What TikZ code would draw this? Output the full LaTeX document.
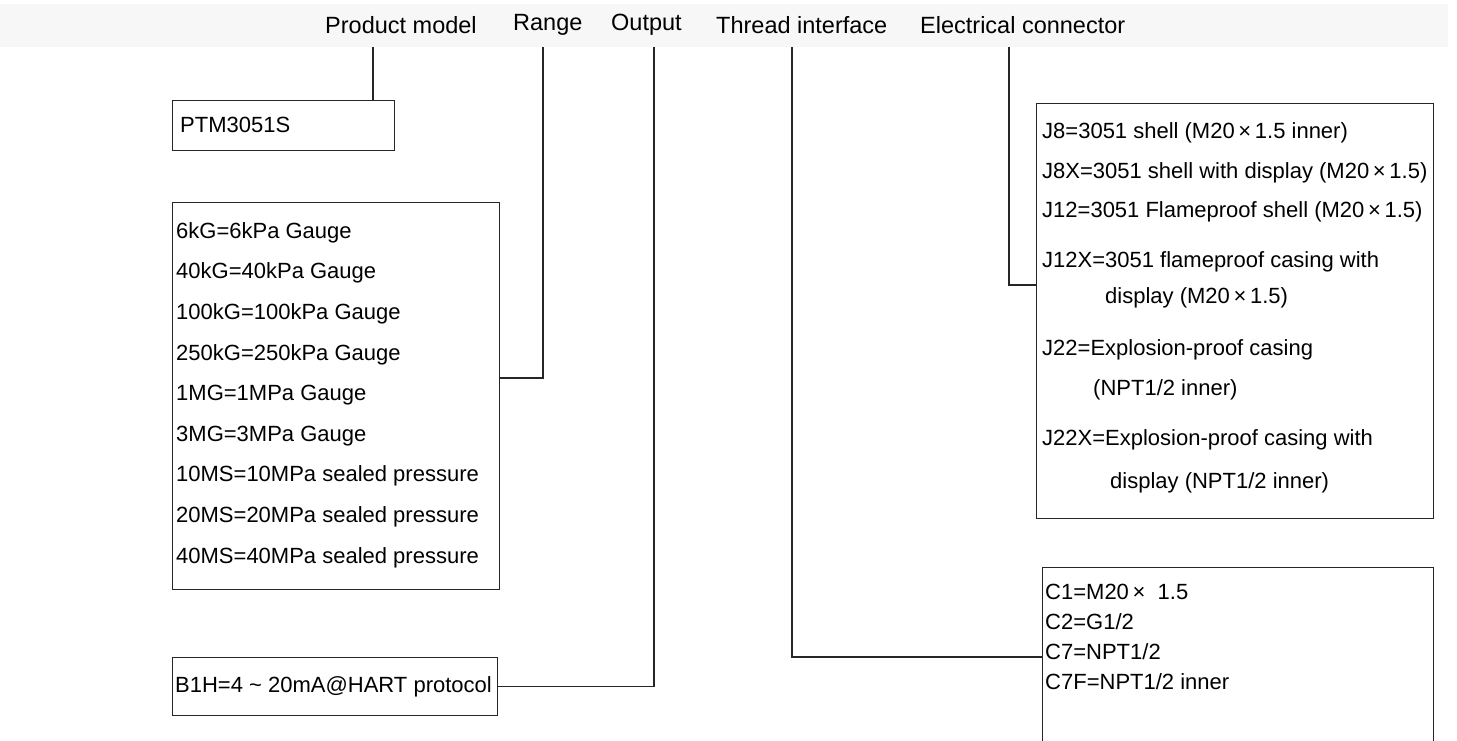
\documentclass[tikz,border=0pt]{standalone}
\usepackage{fontspec}
\setmainfont{Liberation Sans}
\usetikzlibrary{positioning}

\tikzset{
  box/.style = {draw = black!85, line width = 1.4pt, anchor = north west,
    inner sep = 0pt},
  item/.style = {anchor = west, inner sep = 0pt, text height = 1.5ex,
    text depth = .25ex, yshift = -2pt, font = \fontsize{22}{25}\selectfont},
  head/.style = {anchor = west, inner sep = 0pt,
    font = \fontsize{23.5}{26}\selectfont},
  conn/.style = {draw = black!85, line width = 1.3pt},
}

\begin{document}
\begin{tikzpicture}[x = 1pt, y = -1pt]
  \useasboundingbox (0, 0) rectangle (1457, 740);
  \clip (0, 0) rectangle (1457, 740);
  % header band with the field names
  \fill[gray!6] (0, 4) rectangle (1448, 47);
  \node[head] (model) at (325, 25) {Product model};
  \node[head] (range head) at (513, 25) {Range};
  \node[head] (output head) at (611, 25) {Output};
  \node[head] (thread head) at (716, 25) {Thread interface};
  \node[head] (elec head) at (920, 25) {Electrical connector};
  \coordinate (pm top) at (373, 47);
  \coordinate (rg top) at (543, 47);
  \coordinate (op top) at (654, 47);
  \coordinate (th top) at (792, 47);
  \coordinate (ec top) at (1009, 47);
  % product model
  \node[box, minimum width = 222pt, minimum height = 50pt] (ptm) at (172, 100)
  {};
  \node[item] (ptm text) at (180, 127) {PTM3051S};
  \draw[conn] (pm top) -- (pm top |- ptm.north);
  % range list
  \node[box, minimum width = 327pt, minimum height = 387pt] (range) at (172, 202)
  {};
  \foreach \i/\t in {0/6kG=6kPa Gauge, 1/40kG=40kPa Gauge,
    2/100kG=100kPa Gauge, 3/250kG=250kPa Gauge, 4/1MG=1MPa Gauge,
    5/3MG=3MPa Gauge, 6/10MS=10MPa sealed pressure,
    7/20MS=20MPa sealed pressure, 8/40MS=40MPa sealed pressure}
    \node[item] (r\i) at (176, 233 + 40.6 * \i) {\t};
  \coordinate (rg join) at (range.east |- 0, 378);
  \draw[conn] (rg top) |- (rg join);
  % output
  \node[box, minimum width = 325pt, minimum height = 58pt] (output) at (172, 657)
  {};
  \node[item] (b1h) at (175, 687) {B1H=4 \textasciitilde{} 20mA@HART protocol};
  \draw[conn] (op top) |- (output.east);
  % electrical connector list
  \node[box, minimum width = 397pt, minimum height = 415pt] (elec) at (1036, 103)
  {};
  \node[item] (j8) at (1042, 133) {J8=3051 shell (M20\,×\,1.5 inner)};
  \node[item] (j8x) at (1042, 173) {J8X=3051 shell with display (M20\,×\,1.5)};
  \node[item] (j12) at (1042, 212) {J12=3051 Flameproof shell (M20\,×\,1.5)};
  \node[item] (j12x) at (1042, 262) {J12X=3051 flameproof casing with};
  \node[item] (j12x b) at (1105, 298) {display (M20\,×\,1.5)};
  \node[item] (j22) at (1042, 350) {J22=Explosion-proof casing};
  \node[item] (j22 b) at (1093, 390) {(NPT1/2 inner)};
  \node[item] (j22x) at (1042, 440) {J22X=Explosion-proof casing with};
  \node[item] (j22x b) at (1110, 483) {display (NPT1/2 inner)};
  \coordinate (ec join) at (elec.west |- 0, 285);
  \draw[conn] (ec top) |- (ec join);
  % thread interface list
  \node[box, minimum width = 391pt, minimum height = 213pt] (thread) at (1042, 567)
  {};
  \node[item] (c1) at (1045, 594) {C1=M20\,×\ \ 1.5};
  \node[item] (c2) at (1045, 624) {C2=G1/2};
  \node[item] (c7) at (1045, 654) {C7=NPT1/2};
  \node[item] (c7f) at (1045, 684) {C7F=NPT1/2 inner};
  \coordinate (th join) at (thread.west |- 0, 657);
  \draw[conn] (th top) |- (th join);
\end{tikzpicture}
\end{document}
